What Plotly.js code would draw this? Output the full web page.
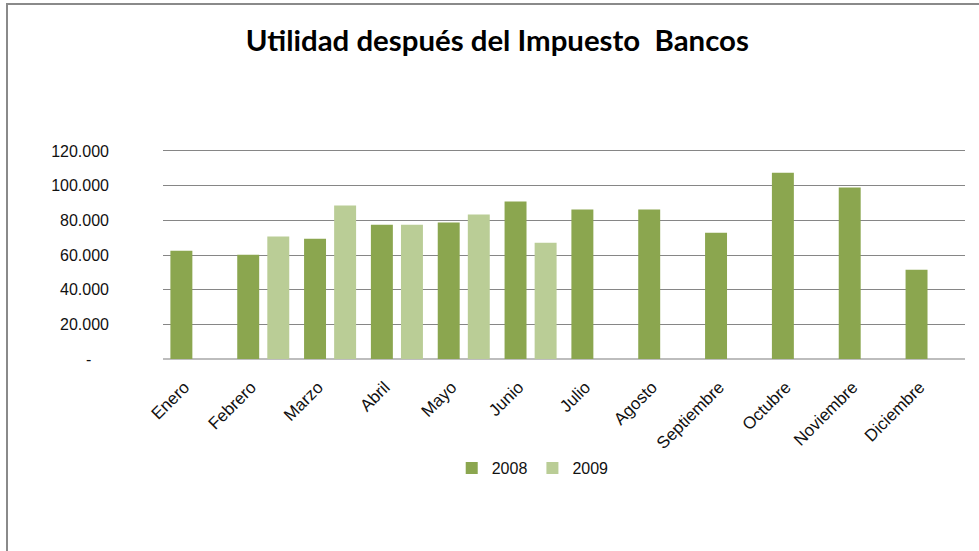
<!DOCTYPE html>
<html>
<head>
<meta charset="utf-8">
<script src="https://cdn.plot.ly/plotly-3.0.1.min.js"></script>
<style>
  html, body { margin: 0; padding: 0; background: #fff; }
  #wrap { position: relative; width: 979px; height: 551px; overflow: hidden; }
  #chart { position: absolute; left: 0; top: 0; width: 979px; height: 551px; }
  #frame { position: absolute; left: 6px; top: 3px; width: 990px; height: 600px;
           border-left: 2px solid #8a8a8a; border-top: 2px solid #8a8a8a; pointer-events: none; }
</style>
</head>
<body>
<div id="wrap">
  <div id="chart"></div>
  <div id="frame"></div>
</div>
<script>
const months = ["Enero", "Febrero", "Marzo", "Abril", "Mayo", "Junio", "Julio",
                "Agosto", "Septiembre", "Octubre", "Noviembre", "Diciembre"];
const values2008 = [62500, 60200, 69400, 77500, 78700, 90800, 86200, 86200, 72900, 107500, 98900, 51500];
const values2009 = [null, 70600, 88500, 77500, 83300, 67100, null, null, null, null, null, null];
const yTickVals = [0, 20000, 40000, 60000, 80000, 100000, 120000];
const yTickText = ["-\u00a0\u00a0\u00a0\u00a0", "20.000", "40.000", "60.000", "80.000", "100.000", "120.000"];

const traces = [
  { type: "bar", name: "2008", x: months, y: values2008, marker: { color: "#8ba64f" } },
  { type: "bar", name: "2009", x: months, y: values2009, marker: { color: "#bacd96" } }
];

const layout = {
  width: 979, height: 551,
  margin: { l: 163, r: 14, t: 149, b: 192 },
  paper_bgcolor: "#fff", plot_bgcolor: "#fff",
  barmode: "group", bargap: 0.10, bargroupgap: 0.27,
  font: { family: "Liberation Sans, Arial, sans-serif", color: "#111" },
  title: {
    text: "<b>Utilidad después del Impuesto  Bancos</b>",
    font: { family: "Lato, sans-serif", size: 29.4, color: "#000" },
    x: 0.508, xref: "container", xanchor: "center",
    y: 0.926, yref: "container", yanchor: "middle"
  },
  xaxis: {
    type: "category", tickangle: -45, ticks: "",
    tickfont: { size: 17, color: "#111" },
    ticklabelstandoff: 14, ticklabelshift: -12,
    showgrid: false, showline: false, zeroline: false
  },
  yaxis: {
    range: [0, 121150], tickvals: yTickVals, ticktext: yTickText,
    tickfont: { size: 16, color: "#111" },
    ticks: "", ticklabelstandoff: 53,
    showgrid: true, gridcolor: "#868686", gridwidth: 1,
    zeroline: true, zerolinecolor: "#bdbdbd", zerolinewidth: 2,
    showline: false
  },
  legend: {
    orientation: "h", x: 0.461, xanchor: "center", y: -0.52, yanchor: "middle",
    font: { size: 16, color: "#111" }, itemwidth: 30, traceorder: "normal"
  },
  showlegend: true
};

Plotly.newPlot("chart", traces, layout, { displayModeBar: false, staticPlot: true });
</script>
</body>
</html>
